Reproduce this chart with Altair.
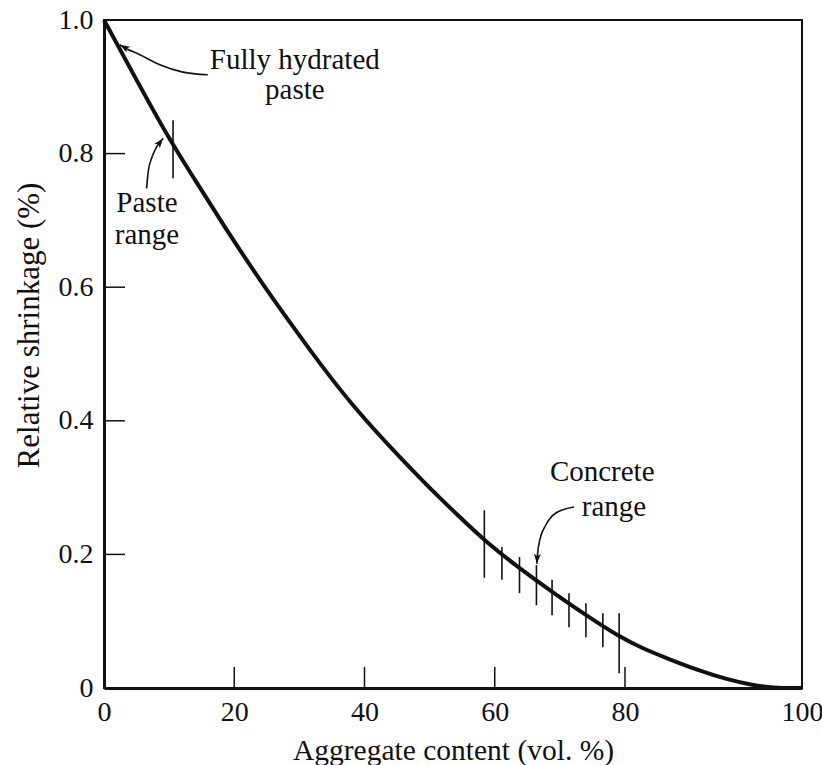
import altair as alt
import pandas as pd

# ---- main curve ----
curve_x = [0, 5, 10.1, 13.7, 18.8, 23.9, 29.0, 34.1, 39.2, 44.3, 49.5, 54.6, 58.4, 63.8, 68.8, 74.0, 79.1, 81.7, 85, 88.6, 91.5, 94.3, 96.6, 100]
curve_y = [1.0, 0.910, 0.820, 0.765, 0.686, 0.611, 0.541, 0.473, 0.411, 0.357, 0.304, 0.256, 0.221, 0.179, 0.144, 0.109, 0.077, 0.061, 0.043, 0.025, 0.013, 0.0045, 0.0, 0.0]

# ---- range bars (paste range + concrete range) ----
range_x = [10.6, 58.4, 61.1, 63.8, 66.4, 68.8, 71.4, 74.0, 76.6, 79.1]
range_lo = [0.763, 0.165, 0.162, 0.142, 0.124, 0.109, 0.091, 0.076, 0.061, 0.022]
range_hi = [0.850, 0.266, 0.211, 0.196, 0.184, 0.162, 0.142, 0.127, 0.112, 0.112]

# ---- axis ticks / labels ----
x_tick_vals = [20, 40, 60, 80]
y_tick_vals = [0.2, 0.4, 0.6, 0.8, 1.0]
x_label_vals = [0, 20, 40, 60, 80, 100]
y_label_vals = [0, 0.2, 0.4, 0.6, 0.8, 1.0]

# ---- annotation texts ----
note_text = ["Fully hydrated", "paste", "Paste", "range", "Concrete", "range"]
note_x = [29.3, 29.3, 6.6, 6.6, 76.5, 78.3]
note_y = [0.940, 0.895, 0.726, 0.678, 0.323, 0.271]

# ---- annotation arrows (curved leaders) ----
arrow_id = ["a"] * 6 + ["b"] * 5 + ["c"] * 6
arrow_x = [15.94, 12.11, 8.58, 5.52, 2.91, 2.45,
           6.54, 6.79, 7.31, 8.08, 9.09,
           72.18, 69.38, 67.85, 66.93, 66.56, 66.47]
arrow_y = [0.918, 0.922, 0.933, 0.948, 0.960, 0.963,
           0.748, 0.773, 0.793, 0.810, 0.823,
           0.271, 0.262, 0.244, 0.222, 0.199, 0.186]
head_x = [2.45, 9.09, 66.47]
head_y = [0.963, 0.823, 0.186]
head_angle = [300, 38, 183]

FONT = "Liberation Serif"
INK = "#111111"
W, H = 698, 668

xs = alt.Scale(domain=[0, 80, 100], range=[0, 521, W], nice=False, zero=False)
ys = alt.Scale(domain=[0, 1], nice=False, zero=False)

curve_df = pd.DataFrame({"x": curve_x, "y": curve_y, "i": list(range(len(curve_x)))})
range_df = pd.DataFrame({"x": range_x, "lo": range_lo, "hi": range_hi})
note_df = pd.DataFrame({"t": note_text, "x": note_x, "y": note_y})
arrow_df = pd.DataFrame({"id": arrow_id, "x": arrow_x, "y": arrow_y, "i": list(range(len(arrow_x)))})
head_df = pd.DataFrame({"x": head_x, "y": head_y, "a": head_angle})
xt_df = pd.DataFrame({"v": x_tick_vals})
yt_df = pd.DataFrame({"v": y_tick_vals})

x_axis = alt.Axis(
    values=x_label_vals, title="Aggregate content (vol. %)", grid=False,
    ticks=False, tickSize=0, domain=True, domainColor=INK, domainWidth=3,
    labelFont=FONT, labelFontSize=28, labelColor=INK, labelPadding=10,
    labelFlush=False,
    titleFont=FONT, titleFontSize=29.5, titleFontWeight="normal", titleColor=INK,
    titleBaseline="middle", titleY=62,
)
y_axis = alt.Axis(
    values=y_label_vals, title="Relative shrinkage (%)", grid=False,
    ticks=False, tickSize=0, domain=True, domainColor=INK, domainWidth=3,
    labelFont=FONT, labelFontSize=28, labelColor=INK, labelPadding=11,
    labelFlush=False,
    labelExpr="datum.value == 0 ? '0' : format(datum.value, '.1f')",
    titleFont=FONT, titleFontSize=31, titleFontWeight="normal", titleColor=INK,
    titleAngle=270, titleAlign="center", titleBaseline="middle",
    titleX=-75, titleY=305,
)

X = lambda f: alt.X(f, scale=xs, axis=x_axis)
Y = lambda f: alt.Y(f, scale=ys, axis=y_axis)

curve = alt.Chart(curve_df).mark_line(color=INK, strokeWidth=4, interpolate="basis").encode(
    x=X("x:Q"), y=Y("y:Q"), order="i:Q",
)

bars = alt.Chart(range_df).mark_rule(color=INK, strokeWidth=1.6).encode(
    x=X("x:Q"), y=Y("lo:Q"), y2="hi:Q",
)

xticks = alt.Chart(xt_df).mark_rule(color=INK, strokeWidth=1.5).encode(
    x=X("v:Q"), y=alt.value(H), y2=alt.value(H - 21),
)
yticks = alt.Chart(yt_df).mark_rule(color=INK, strokeWidth=1.5).encode(
    y=Y("v:Q"), x=alt.value(0), x2=alt.value(21),
)

notes = alt.Chart(note_df).mark_text(font=FONT, fontSize=29, color=INK, align="center", baseline="middle").encode(
    x=X("x:Q"), y=Y("y:Q"), text="t:N",
)

arrows = alt.Chart(arrow_df).mark_line(color=INK, strokeWidth=1.6, interpolate="monotone").encode(
    x=X("x:Q"), y=Y("y:Q"), detail="id:N", order="i:Q",
)

heads = alt.Chart(head_df).mark_point(
    shape="M0,0L-0.7,2L0,1.5L0.7,2Z", filled=True, color=INK, size=100, opacity=1
).encode(
    x=X("x:Q"), y=Y("y:Q"), angle=alt.Angle("a:Q", scale=None),
)

chart = alt.layer(curve, bars, xticks, yticks, arrows, heads, notes).properties(
    width=W, height=H,
    autosize=alt.AutoSizeParams(type="none"),
    padding={"left": 104, "top": 20, "right": 20, "bottom": 77},
    background="white",
).configure_view(stroke=INK, strokeWidth=2)

chart.save("out.html", embed_options={"renderer": "svg", "actions": False})
